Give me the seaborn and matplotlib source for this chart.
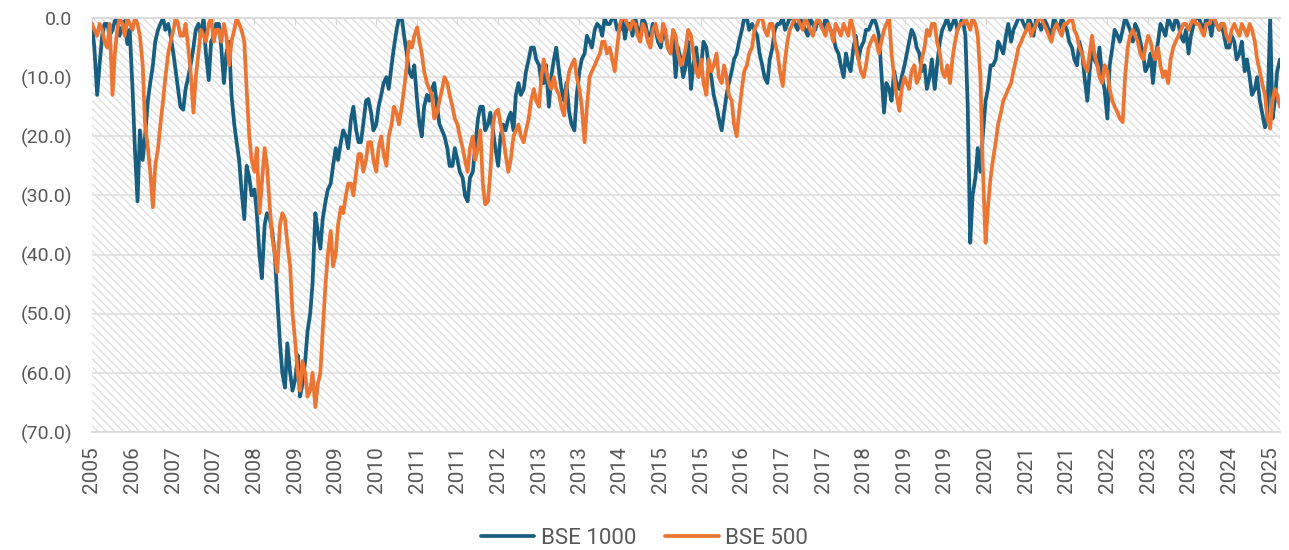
import numpy as np
import pandas as pd
import matplotlib
matplotlib.use("Agg")
import matplotlib.pyplot as plt
from matplotlib.patches import Rectangle
import seaborn as sns

# Drawdowns (%), Oct 2005 .. Apr 2025
# one value at the start of each month and one near mid-month
START = "2005-10-01"

bse_1000 = [
    -1, -13, -3, -1, -2, 0, -1.5, -4.4, -12, -31,
    -24, -14, -8, -2, 0, -1, -6, -12, -15.5, -10,
    -5, -1, 0, -10.5, -3, -1, -11, -4, -18, -24,
    -34, -27, -29, -40, -35, -34, -40, -55, -62.5, -60,
    -61, -64, -58, -50, -33, -39, -31, -28, -22, -21,
    -20, -17, -19, -21, -14, -16, -18, -13, -10, -8,
    -2, 0, -6, -10, -14, -20, -13, -12, -15, -19,
    -22, -25, -24, -27, -31, -26, -17, -15, -18, -19,
    -25, -18, -17, -19, -11, -12, -7, -5, -8, -11,
    -15, -7, -9, -14, -16, -19, -9, -6, -4, -2,
    -1.5, 0, -1, 0, -2, -3.5, -1, 0, -2.5, -1,
    -3, -2, -5, -3, -6, -10, -7, -8, -12, -5,
    -8, -5, -10, -15, -19, -13, -9, -6, -2, 0,
    -1, -3, -8, -11, -5, -1, 0, -1, 0, -2,
    -1, -3, -1, 0, -2, -1, -3, -6, -10, -8,
    -5, -7, -4, -2, 0, -3, -16, -12, -9, -12,
    -8, -4, -3, -6, -8, -10, -12, -4, -1, -2,
    0, -1, -3, -38, -27, -26, -14, -8, -7, -5,
    -3, -4, -1, 0, -2, -1, 0, -2, -1, -3,
    -1, 0, -2, -5, -8, -6, -14, -5, -8, -10,
    -17, -5, -3, -2, -1, -4, -2, -6, -8, -11,
    -4, -2, 0, -2, -1, -4, -6, -1, 0, -2,
    -1, 0, -2, -3, -5, -4, -6, -9, -10, -12,
    -14, -18.5, 0, -14, -7,
]
bse_1000_mid = [
    -5, -8, -1, -3, -0.5, -3, -0.5, -2, -22, -19,
    -20, -11, -4, -1, -2, -3, -9, -15, -12, -8,
    -2, -3, -6, -4, -1, -5, -6, -13, -21, -29,
    -25, -30, -33, -44, -33, -36, -47, -60, -55, -63,
    -57, -62, -53, -45, -36, -34, -29, -25, -24, -19,
    -22, -15, -21, -18, -13.7, -19, -15, -11, -12, -5,
    0, -3, -9, -8, -18, -15, -14, -11, -18, -20,
    -25, -22, -26, -30, -27, -22, -15, -19, -16, -22,
    -20, -19, -16, -13, -13, -9, -5, -7, -11, -8,
    -10, -5, -12, -11, -18, -13, -7, -3, -5, -1,
    -3, -1, 0, -2, 0, -1, -3, -2, 0, -3,
    -1, -4, -2, -5, -3, -5, -10, -4, -8, -9,
    -4, -8, -13, -17, -16, -11, -7, -4, 0, -2,
    -2, -6, -10, -7, -2, -1, -2, 0, -1, 0,
    -2, 0, -2, -1, 0, -2, -5, -8, -6, -9,
    -3, -5, -2, -1, -1, -9, -11, -14, -11, -10,
    -6, -2, -5, -9, -12, -7, -8, -2, 0, -1,
    -2, 0, -15, -30, -22, -20, -12, -8, -4, -6,
    -1, -2, 0, -1, 0, -3, -1, 0, -2, 0,
    -2, -1, -4, -7, -4, -10, -9, -7, -5, -12,
    -8, -2, -4, 0, -2, -1, -4, -9, -6, -7,
    -1, -3, -1, 0, -3, -2, -3, 0, -1, 0,
    -3, -1, -1, -5, -3, -7, -4, -7, -13, -10,
    -16, -17, -17, -9,
]

bse_500 = [
    -1, -3, -2, -5, -13, -2, -1, 0, -2, -1,
    -8, -22, -32, -22, -14, -6, -2, -1, -3, -5,
    -16, -6, -3, -1, -4, -2, -1, -8, -2, -1,
    -4, -20, -26, -33, -22, -32, -40, -35, -34, -42,
    -55, -63, -60, -63, -65.8, -60, -45, -36, -40, -32,
    -30, -28, -26, -23, -24, -21, -26, -20, -25, -18,
    -16, -15, -8, -5, -1.6, -6, -11, -13, -16, -12,
    -11, -15, -18, -22, -26, -20, -22, -28, -31, -18,
    -15.5, -20, -26, -20, -18, -21, -17, -12, -15, -7,
    -11, -10, -13, -16.5, -9, -7, -12, -21, -10, -8,
    -6, -4, -5, -9, -1, 0, -2, -1, -4, -2,
    -5, -1, -4, -2, -6, -3, -8, -5, -3, -9,
    -7, -13, -9, -6, -11, -10, -14, -20, -12, -8,
    -5, -1, 0, -3, -1, -6, -11.5, -4, -1, 0,
    -2, -1, -3, 0, -2, -1, -4, -2, -1, -3,
    -2, -7, -10, -5, -3, -6, -2, 0, -10, -15.7,
    -10, -12, -8, -10, -5, -3, -1, -6, -10, -11,
    -4, -1, 0, -2, -1, -10, -38, -27, -21, -16,
    -13, -11, -7, -4, -2, -3, -1, 0, -2, -4,
    -1, -3, -1, 0, -3, -6, -9, -3, -8, -11,
    -9, -14, -16, -17.6, -5, -2, -4, -7, -3, -6,
    -5, -10, -11, -5, -3, -1, -2, 0, -1, -3,
    -1, 0, -2, -1, -4, -1, -3, -2, -1, -4,
    -9, -13, -18.7, -12, -15,
]
bse_500_mid = [
    -2, -1, -4, -1, -6, 0, -3, -1, 0, -3,
    -18, -26, -25, -18, -10, -4, 0, -3, -1, -9,
    -10, -2, -4, 0, -2, -4, -3, -4, 0, -2,
    -12, -24, -22, -28, -25, -37, -43, -33, -38, -50,
    -60, -58, -64, -60, -62, -53, -40, -42, -35, -33,
    -28, -30, -23, -26, -21, -24, -22, -23, -20, -15,
    -18, -12, -4, -3, -4, -9, -12, -17, -14, -10,
    -13, -17, -20, -24, -22, -24, -19, -31.5, -26, -16,
    -18, -23, -24, -19, -20, -19, -14, -14, -10, -9,
    -12, -12, -15, -12, -8, -10, -15, -15, -9, -7,
    -4, -6, -7, -5, 0, -1, -0.5, -3, -1, -4,
    -2, -3, -1, -5, -2, -6, -7, -2, -6, -10,
    -11, -7, -8, -10, -8, -13, -18, -16, -9, -6,
    -2, 0, -2, -1, -4, -9, -7, -2, 0, -1,
    0, -2, -1, -1, -3, -2, -1, -3, -2, 0,
    -5, -9, -8, -4, -4, -4, -1, -6, -13, -12,
    -11, -9, -11, -7, -2, -1, -4, -9, -8, -7,
    -2, -1, -1, 0, -3, -25, -32, -24, -18, -14,
    -12, -9, -5, -3, -1, -2, 0, -1, -3, -2,
    -2, -1, -0.5, -2, -5, -8, -6, -6, -10, -8,
    -12, -15, -17, -10, -3, -3, -6, -5, -4, -7,
    -8, -9, -7, -4, -2, -1, -1, -1, -2, -1,
    0, -1, -1, -3, -2, -2, -1, -3, -2, -7,
    -11, -17, -14, -13,
]

series_names = ["BSE 1000", "BSE 500"]
colors = ["#175E80", "#EC7533"]

x_labels = ["2005", "2006", "2007", "2007", "2008", "2009", "2009", "2010",
            "2011", "2011", "2012", "2013", "2013", "2014", "2015", "2015",
            "2016", "2017", "2017", "2018", "2019", "2019", "2020", "2021",
            "2021", "2022", "2023", "2023", "2024", "2025"]
y_ticks = [0, -10, -20, -30, -40, -50, -60, -70]
y_labels = ["0.0", "(10.0)", "(20.0)", "(30.0)", "(40.0)", "(50.0)", "(60.0)", "(70.0)"]

month_dates = pd.date_range(START, periods=len(bse_1000), freq="MS")
mid_dates = month_dates[:len(bse_1000_mid)] + pd.Timedelta(days=14)

frames = []
for name, vals, mids in [(series_names[0], bse_1000, bse_1000_mid),
                         (series_names[1], bse_500, bse_500_mid)]:
    part = pd.DataFrame({"date": list(month_dates) + list(mid_dates),
                         "drawdown": vals + mids})
    part["index"] = name
    frames.append(part.sort_values("date"))
df = pd.concat(frames, ignore_index=True)

sns.set_style("white")
plt.rcParams["font.family"] = ["Roboto", "DejaVu Sans"]
plt.rcParams["hatch.linewidth"] = 0.9

fig = plt.figure(figsize=(12.89, 5.5), dpi=100)
ax = fig.add_axes([92 / 1289, 1 - 432 / 550, (1280 - 92) / 1289, (432 - 18) / 550])

# hatched plot background
ax.add_patch(Rectangle((0, 0), 1, 1, transform=ax.transAxes, facecolor="white",
                       edgecolor="#dcdcdc", hatch="\\\\\\\\", lw=0, zorder=0))

sns.lineplot(data=df, x="date", y="drawdown", hue="index", palette=colors,
             linewidth=2.7, ax=ax, legend=True, sort=False)

ax.set_ylim(-70, 0)
ax.set_xlim(month_dates[0], month_dates[-1])
ax.set_yticks(y_ticks)
ax.set_yticklabels(y_labels)
tick_dates = pd.date_range(START, periods=len(x_labels), freq="8MS")
ax.set_xticks(tick_dates)
ax.set_xticklabels(x_labels, rotation=90)

ax.set_axisbelow(True)
ax.yaxis.grid(True, color="#e0e0e0", linewidth=1.3)
ax.xaxis.grid(False)
for side in ["left", "right"]:
    ax.spines[side].set_visible(False)
for side in ["top", "bottom"]:
    ax.spines[side].set_color("#d9d9d9")
    ax.spines[side].set_linewidth(1.3)

ax.tick_params(axis="y", length=0, pad=14, labelsize=14, labelcolor="#595959")
ax.tick_params(axis="x", bottom=False, top=True, direction="in", length=5,
               color="#d9d9d9", labelbottom=True, labeltop=False, pad=10,
               labelsize=15, labelcolor="#595959")
ax.set_xlabel("")
ax.set_ylabel("")

handles, labels = ax.get_legend_handles_labels()
ax.legend_.remove()
fig.legend(handles, labels, loc="center", bbox_to_anchor=(0.5, 1 - 538 / 550),
           ncol=2, frameon=False, fontsize=16, handlelength=2.4,
           handletextpad=0.3, columnspacing=1.3, labelcolor="#595959")

fig.savefig("out.png", dpi=100)
